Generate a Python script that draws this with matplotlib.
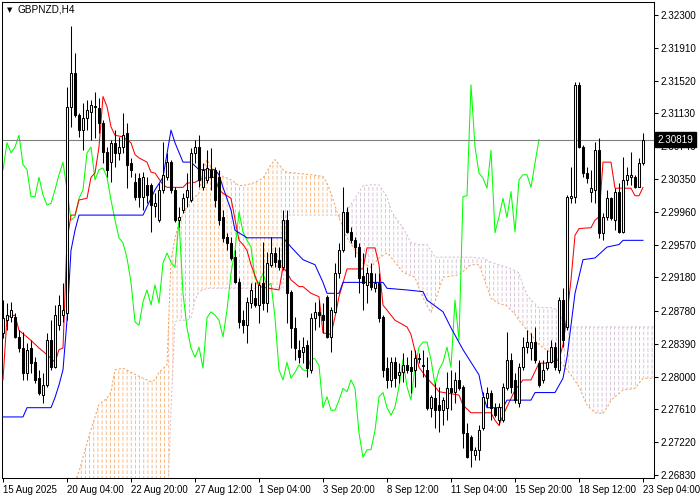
import numpy as np
import matplotlib.pyplot as plt
import matplotlib.transforms as mtransforms

plt.rcParams['font.family'] = ['Liberation Sans', 'DejaVu Sans']
plt.rcParams['hatch.linewidth'] = 0.5

# GBPNZD H4 candles
opens = [2.2852, 2.2867, 2.2871, 2.2871, 2.2847, 2.2834, 2.2804, 2.2834, 2.2817, 2.2798,
         2.2778, 2.2790, 2.2843, 2.2811, 2.2861, 2.2873, 2.2876, 2.3121, 2.3161, 2.3111,
         2.3093, 2.3107, 2.3115, 2.3122, 2.3119, 2.3102, 2.3067, 2.3055, 2.3078, 2.3066,
         2.3073, 2.3090, 2.3054, 2.3031, 2.3036, 2.3014, 2.3028, 2.3028, 2.3003, 2.2986,
         2.3022, 2.3037, 2.3055, 2.3022, 2.2986, 2.2998, 2.3014, 2.3010, 2.3066, 2.3073,
         2.3025, 2.3034, 2.3046, 2.3046, 2.3037, 2.2990, 2.2966, 2.2959, 2.2942, 2.2912,
         2.2867, 2.2861, 2.2887, 2.2893, 2.2885, 2.2911, 2.2887, 2.2933, 2.2947, 2.2939,
         2.2930, 2.2986, 2.2901, 2.2858, 2.2832, 2.2829, 2.2838, 2.2808, 2.2870, 2.2877,
         2.2873, 2.2895, 2.2847, 2.2877, 2.2923, 2.2950, 2.2996, 2.2972, 2.2962, 2.2954,
         2.2920, 2.2909, 2.2923, 2.2905, 2.2911, 2.2871, 2.2810, 2.2796, 2.2817, 2.2802,
         2.2805, 2.2814, 2.2811, 2.2808, 2.2822, 2.2814, 2.2808, 2.2763, 2.2774, 2.2766,
         2.2760, 2.2763, 2.2786, 2.2782, 2.2796, 2.2788, 2.2733, 2.2728, 2.2707, 2.2713,
         2.2739, 2.2774, 2.2781, 2.2763, 2.2748, 2.2748, 2.2786, 2.2820, 2.2796, 2.2769,
         2.2811, 2.2835, 2.2834, 2.2841, 2.2816, 2.2796, 2.2810, 2.2817, 2.2835, 2.2808,
         2.2891, 2.2859, 2.3012, 2.3014, 2.3147, 2.3073, 2.3042, 2.3020, 2.3022, 2.3069,
         2.2971, 2.2990, 2.3012, 2.2986, 2.3020, 2.2972, 2.3034, 2.3037, 2.3037, 2.3025,
         2.3054]
highs = [2.2891, 2.2887, 2.2889, 2.2876, 2.2855, 2.2853, 2.2840, 2.2843, 2.2823, 2.2808,
         2.2804, 2.2852, 2.2867, 2.2885, 2.2897, 2.2911, 2.3144, 2.3217, 2.3185, 2.3113,
         2.3125, 2.3129, 2.3129, 2.3138, 2.3131, 2.3105, 2.3073, 2.3081, 2.3093, 2.3085,
         2.3113, 2.3102, 2.3060, 2.3042, 2.3042, 2.3043, 2.3037, 2.3030, 2.3018, 2.3030,
         2.3079, 2.3066, 2.3058, 2.3025, 2.3002, 2.3018, 2.3042, 2.3072, 2.3081, 2.3087,
         2.3054, 2.3069, 2.3072, 2.3049, 2.3046, 2.2998, 2.2971, 2.2966, 2.2950, 2.2917,
         2.2879, 2.2895, 2.2911, 2.2912, 2.2912, 2.2960, 2.2948, 2.2966, 2.2954, 2.2954,
         2.2998, 2.2998, 2.2903, 2.2871, 2.2843, 2.2847, 2.2843, 2.2876, 2.2889, 2.2891,
         2.2887, 2.2897, 2.2883, 2.2935, 2.2959, 2.3025, 2.3002, 2.2978, 2.2966, 2.2959,
         2.2947, 2.2930, 2.2935, 2.2923, 2.2923, 2.2873, 2.2823, 2.2823, 2.2823, 2.2816,
         2.2828, 2.2823, 2.2832, 2.2832, 2.2828, 2.2832, 2.2823, 2.2778, 2.2792, 2.2788,
         2.2776, 2.2805, 2.2808, 2.2805, 2.2820, 2.2790, 2.2745, 2.2730, 2.2716, 2.2742,
         2.2782, 2.2788, 2.2784, 2.2769, 2.2769, 2.2792, 2.2853, 2.2828, 2.2804, 2.2816,
         2.2847, 2.2855, 2.2852, 2.2859, 2.2820, 2.2820, 2.2832, 2.2843, 2.2841, 2.2895,
         2.2905, 2.3016, 2.3049, 2.3150, 2.3150, 2.3075, 2.3049, 2.3046, 2.3079, 2.3084,
         2.2995, 2.3022, 2.3014, 2.3024, 2.3030, 2.3061, 2.3049, 2.3067, 2.3040, 2.3060,
         2.3090]
lows = [2.2846, 2.2855, 2.2865, 2.2846, 2.2829, 2.2796, 2.2796, 2.2804, 2.2792, 2.2778,
        2.2769, 2.2788, 2.2808, 2.2810, 2.2855, 2.2865, 2.2867, 2.3097, 2.3109, 2.3085,
        2.3069, 2.3093, 2.3081, 2.3084, 2.3090, 2.3054, 2.3037, 2.3031, 2.3049, 2.3058,
        2.3066, 2.3024, 2.3037, 2.3010, 2.3002, 2.2998, 2.3006, 2.2972, 2.2990, 2.2984,
        2.3018, 2.3034, 2.3018, 2.2984, 2.2978, 2.2995, 2.3002, 2.3008, 2.3054, 2.3025,
        2.3022, 2.3030, 2.3022, 2.3002, 2.2980, 2.2960, 2.2950, 2.2939, 2.2911, 2.2858,
        2.2852, 2.2840, 2.2882, 2.2883, 2.2864, 2.2879, 2.2877, 2.2930, 2.2930, 2.2927,
        2.2927, 2.2864, 2.2834, 2.2820, 2.2816, 2.2816, 2.2800, 2.2804, 2.2855, 2.2859,
        2.2852, 2.2846, 2.2829, 2.2876, 2.2917, 2.2948, 2.2971, 2.2959, 2.2942, 2.2899,
        2.2879, 2.2887, 2.2903, 2.2901, 2.2865, 2.2800, 2.2786, 2.2788, 2.2788, 2.2792,
        2.2794, 2.2804, 2.2781, 2.2788, 2.2816, 2.2800, 2.2760, 2.2752, 2.2739, 2.2734,
        2.2742, 2.2748, 2.2760, 2.2769, 2.2784, 2.2715, 2.2703, 2.2692, 2.2701, 2.2701,
        2.2736, 2.2764, 2.2748, 2.2752, 2.2742, 2.2746, 2.2784, 2.2781, 2.2769, 2.2764,
        2.2808, 2.2828, 2.2820, 2.2816, 2.2788, 2.2792, 2.2808, 2.2816, 2.2808, 2.2804,
        2.2835, 2.2855, 2.3006, 2.3006, 2.3072, 2.3037, 2.3030, 2.3008, 2.3006, 2.2965,
        2.2962, 2.2986, 2.2986, 2.2974, 2.2971, 2.2971, 2.3028, 2.3028, 2.3024, 2.3025,
        2.3052]
closes = [2.2870, 2.2873, 2.2879, 2.2847, 2.2834, 2.2804, 2.2832, 2.2816, 2.2796, 2.2781,
          2.2790, 2.2843, 2.2811, 2.2873, 2.2885, 2.2879, 2.3121, 2.3161, 2.3111, 2.3093,
          2.3107, 2.3117, 2.3123, 2.3121, 2.3102, 2.3067, 2.3046, 2.3078, 2.3066, 2.3073,
          2.3087, 2.3052, 2.3046, 2.3014, 2.3014, 2.3037, 2.3016, 2.3004, 2.3006, 2.3022,
          2.3040, 2.3055, 2.3022, 2.2986, 2.2990, 2.3012, 2.3022, 2.3066, 2.3073, 2.3034,
          2.3046, 2.3048, 2.3037, 2.3010, 2.2986, 2.2965, 2.2959, 2.2941, 2.2912, 2.2865,
          2.2861, 2.2889, 2.2903, 2.2885, 2.2909, 2.2887, 2.2935, 2.2947, 2.2936, 2.2930,
          2.2986, 2.2899, 2.2858, 2.2834, 2.2823, 2.2835, 2.2810, 2.2870, 2.2877, 2.2873,
          2.2867, 2.2847, 2.2879, 2.2923, 2.2950, 2.2996, 2.2972, 2.2962, 2.2954, 2.2917,
          2.2911, 2.2923, 2.2907, 2.2911, 2.2870, 2.2808, 2.2796, 2.2817, 2.2798, 2.2805,
          2.2814, 2.2808, 2.2807, 2.2822, 2.2821, 2.2813, 2.2763, 2.2776, 2.2760, 2.2760,
          2.2772, 2.2786, 2.2782, 2.2796, 2.2786, 2.2733, 2.2704, 2.2713, 2.2713, 2.2736,
          2.2776, 2.2781, 2.2763, 2.2754, 2.2764, 2.2788, 2.2820, 2.2788, 2.2772, 2.2811,
          2.2835, 2.2841, 2.2841, 2.2820, 2.2790, 2.2808, 2.2817, 2.2835, 2.2811, 2.2891,
          2.2843, 2.3014, 2.3015, 2.3147, 2.3073, 2.3042, 2.3036, 2.3024, 2.3069, 2.2971,
          2.2990, 2.3012, 2.2989, 2.3020, 2.2972, 2.3034, 2.3040, 2.3040, 2.3025, 2.3054,
          2.30819]

time_labels = ['15 Aug 2025', '20 Aug 04:00', '22 Aug 20:00', '27 Aug 12:00', '1 Sep 04:00',
               '3 Sep 20:00', '8 Sep 12:00', '11 Sep 04:00', '15 Sep 20:00', '18 Sep 12:00',
               '23 Sep 04:00']
price_ticks = [2.32300, 2.31910, 2.31520, 2.31130, 2.30740, 2.30350, 2.29960, 2.29570,
               2.29180, 2.28780, 2.28390, 2.28000, 2.27610, 2.27220, 2.26830]
last_price = 2.30819

# Ichimoku lines, read at their turning points
tenkan_bars = [0, 1, 3, 4, 7, 9, 11, 13, 14, 15, 16, 17, 18, 19, 21, 22, 23, 24, 25, 26,
               27, 28, 30, 32, 33, 34, 36, 37, 38, 40, 41, 45, 46, 48, 50, 53, 54, 55, 57, 59,
               60, 61, 62, 64, 69, 70, 71, 72, 74, 75, 77, 79, 80, 82, 83, 84, 86, 90, 91, 93,
               94, 95, 98, 101, 102, 104, 106, 108, 109, 114, 115, 117, 122, 123, 124, 125, 127, 128, 130, 132,
               134, 136, 139, 140, 141, 142, 143, 144, 147, 148, 149, 150, 152, 153, 157, 158, 159, 160]
tenkan = [2.2796, 2.2871, 2.2873, 2.2855, 2.2843, 2.2834, 2.2826, 2.2817, 2.2832, 2.2834,
          2.2962, 2.2992, 2.2992, 2.3010, 2.3012, 2.3037, 2.3042, 2.3073, 2.3133, 2.3121,
          2.3097, 2.3087, 2.3085, 2.3078, 2.3064, 2.3060, 2.3055, 2.3043, 2.3042, 2.3028,
          2.3025, 2.3025, 2.3030, 2.3031, 2.3036, 2.3037, 2.3022, 2.3018, 2.3012, 2.2962,
          2.2957, 2.2950, 2.2933, 2.2907, 2.2903, 2.2930, 2.2924, 2.2915, 2.2907, 2.2907,
          2.2899, 2.2895, 2.2852, 2.2850, 2.2871, 2.2895, 2.2928, 2.2928, 2.2953, 2.2953,
          2.2933, 2.2885, 2.2867, 2.2859, 2.2850, 2.2811, 2.2798, 2.2788, 2.2782, 2.2778,
          2.2766, 2.2757, 2.2757, 2.2748, 2.2742, 2.2754, 2.2774, 2.2784, 2.2796, 2.2796,
          2.2816, 2.2816, 2.2820, 2.2838, 2.2873, 2.2915, 2.2968, 2.2976, 2.2977, 2.2986,
          2.2990, 2.3055, 2.3055, 2.3024, 2.3024, 2.3015, 2.3015, 2.3025]

kijun_bars = [0, 5, 6, 12, 13, 14, 15, 16, 17, 18, 19, 35, 36, 38, 40, 42, 43, 45, 47, 49,
              53, 54, 55, 57, 58, 61, 70, 71, 72, 75, 78, 80, 81, 84, 85, 95, 96, 101, 105, 106,
              110, 112, 115, 119, 120, 121, 125, 126, 132, 133, 138, 140, 141, 142, 143, 145, 148, 151, 154, 155,
              160]
kijun = [2.2752, 2.2752, 2.2763, 2.2763, 2.2775, 2.2790, 2.2808, 2.2867, 2.2950, 2.2974,
         2.2992, 2.2992, 2.3002, 2.3022, 2.3037, 2.3093, 2.3078, 2.3055, 2.3055, 2.3046,
         2.3046, 2.3040, 2.3025, 2.2998, 2.2974, 2.2965, 2.2965, 2.2960, 2.2954, 2.2939,
         2.2933, 2.2912, 2.2899, 2.2899, 2.2912, 2.2912, 2.2905, 2.2903, 2.2901, 2.2891,
         2.2877, 2.2858, 2.2832, 2.2802, 2.2778, 2.2763, 2.2763, 2.2772, 2.2772, 2.2781,
         2.2781, 2.2798, 2.2823, 2.2861, 2.2899, 2.2939, 2.2941, 2.2954, 2.2957, 2.2962,
         2.2962]

cloud_bars = [18, 19, 21, 22, 24, 26, 27, 28, 30, 32, 35, 37, 38, 39, 41, 42, 43, 44, 46, 47,
              48, 49, 50, 51, 52, 54, 57, 59, 61, 63, 65, 67, 68, 69, 70, 71, 77, 80, 81, 82,
              84, 86, 88, 90, 92, 94, 96, 97, 98, 100, 102, 103, 104, 106, 107, 108, 110, 114, 117, 119,
              120, 122, 124, 126, 128, 129, 130, 131, 132, 134, 137, 139, 140, 142, 144, 146, 148, 150, 151, 152,
              155, 158, 160, 163]
span_a = [2.2675, 2.2687, 2.2721, 2.2737, 2.2767, 2.2774, 2.2782, 2.2808, 2.2810, 2.2805,
          2.2798, 2.2794, 2.2796, 2.2805, 2.2814, 2.2939, 2.2965, 2.2983, 2.3002, 2.3010,
          2.3014, 2.3018, 2.3046, 2.3058, 2.3049, 2.3040, 2.3034, 2.3027, 2.3028, 2.3031,
          2.3036, 2.3052, 2.3058, 2.3052, 2.3046, 2.3043, 2.3040, 2.3038, 2.3030, 2.3018,
          2.2989, 2.2965, 2.2950, 2.2935, 2.2930, 2.2941, 2.2947, 2.2942, 2.2936, 2.2924,
          2.2920, 2.2918, 2.2905, 2.2884, 2.2876, 2.2889, 2.2918, 2.2921, 2.2933, 2.2933,
          2.2920, 2.2893, 2.2887, 2.2884, 2.2874, 2.2867, 2.2861, 2.2855, 2.2850, 2.2838,
          2.2828, 2.2820, 2.2814, 2.2802, 2.2788, 2.2766, 2.2757, 2.2756, 2.2763, 2.2772,
          2.2784, 2.2786, 2.2798, 2.2798]
span_b = [2.2630, 2.2630, 2.2630, 2.2630, 2.2630, 2.2630, 2.2630, 2.2630, 2.2630, 2.2630,
          2.2630, 2.2630, 2.2630, 2.2630, 2.2630, 2.2760, 2.2865, 2.2867, 2.2867, 2.2870,
          2.2891, 2.2901, 2.2903, 2.2905, 2.2905, 2.2905, 2.2905, 2.2905, 2.2905, 2.2905,
          2.2905, 2.2905, 2.2905, 2.2905, 2.2905, 2.2992, 2.2992, 2.2992, 2.2992, 2.2992,
          2.2992, 2.2998, 2.3012, 2.3027, 2.3028, 2.3028, 2.3014, 2.2998, 2.2990, 2.2977,
          2.2959, 2.2958, 2.2957, 2.2957, 2.2950, 2.2942, 2.2942, 2.2942, 2.2942, 2.2941,
          2.2941, 2.2936, 2.2933, 2.2930, 2.2926, 2.2923, 2.2909, 2.2897, 2.2891, 2.2882,
          2.2882, 2.2879, 2.2864, 2.2859, 2.2859, 2.2859, 2.2859, 2.2859, 2.2859, 2.2859,
          2.2859, 2.2859, 2.2859, 2.2859]
chikou_shift = 26

fig = plt.figure(figsize=(7, 5), dpi=100)
ax = fig.add_axes([2 / 700, 22 / 500, 652 / 700, 476 / 500])

o = np.array(opens)
h = np.array(highs)
l = np.array(lows)
c = np.array(closes)
x = np.arange(len(c))

# cloud: thin vertical hatching, broken into dashes by white horizontal hatching
ca = np.array(span_a)
cb = np.array(span_b)
up_cloud = ax.fill_between(cloud_bars, ca, cb, where=ca >= cb, interpolate=True, facecolor='none',
                           edgecolor=(0.957, 0.643, 0.376, 0.85), hatch='||||', linewidth=0, zorder=1)
dn_cloud = ax.fill_between(cloud_bars, ca, cb, where=ca < cb, interpolate=True, facecolor='none',
                           edgecolor=(0.80, 0.70, 0.80, 0.9), hatch='||||', linewidth=0, zorder=1)
breaker = ax.fill_between(cloud_bars, ca, cb, facecolor='none', edgecolor='white', hatch='---',
                          linewidth=0, zorder=1.2)
if hasattr(breaker, 'set_hatch_linewidth'):
    breaker.set_hatch_linewidth(1.4)
    up_cloud.set_hatch_linewidth(0.6)
    dn_cloud.set_hatch_linewidth(0.6)
ax.plot(cloud_bars, span_a, color='#F4A460', lw=0.75, ls=(0, (2, 2)), zorder=1.5)
ax.plot(cloud_bars, span_b, color='#D8BFD8', lw=0.75, ls=(0, (2, 2)), zorder=1.5)

# chikou span = close shifted back
ax.plot(x - chikou_shift, c, color='#00FF00', lw=0.75, zorder=2)
ax.plot(tenkan_bars, tenkan, color='red', lw=0.75, zorder=3)
ax.plot(kijun_bars, kijun, color='blue', lw=0.75, zorder=3)

ax.axhline(last_price, color='#808080', lw=0.8, zorder=2.5)

# candles
ax.vlines(x, l, h, color='black', lw=0.75, zorder=4)
body_low = np.minimum(o, c)
body_h = np.abs(c - o)
colors = np.where(c > o, 'white', 'black')
ax.bar(x, body_h, bottom=body_low, width=0.5, color=colors, edgecolor='black',
       linewidth=0.75, zorder=5)

ax.set_xlim(-0.25, 162.75)
ax.set_ylim(2.26794, 2.32454)

ax.set_xticks(range(0, 161, 16))
ax.set_xticklabels(time_labels, fontsize=6.9, ha='left')
ax.yaxis.tick_right()
ax.set_yticks(price_ticks)
ax.set_yticklabels(['%.5f' % p for p in price_ticks], fontsize=7.1)
ax.tick_params(axis='both', length=3, width=0.75, color='black', pad=2)
for s in ax.spines.values():
    s.set_linewidth(0.75)
    s.set_color('black')

# current price tag
trans = mtransforms.blended_transform_factory(ax.transAxes, ax.transData)
ax.text(1.006, last_price, '%.5f' % last_price, transform=trans, fontsize=7.1,
        color='white', va='center', ha='left', zorder=10, clip_on=False,
        bbox=dict(boxstyle='square,pad=0.25', fc='black', ec='black'))

fig.text(7 / 700, 1 - 10 / 500, '\u25bc', fontsize=5, va='center', ha='left',
         family=['DejaVu Sans'])
fig.text(18 / 700, 1 - 10 / 500, 'GBPNZD,H4', fontsize=7.2, va='center', ha='left')

fig.savefig('out.png', dpi=100)
